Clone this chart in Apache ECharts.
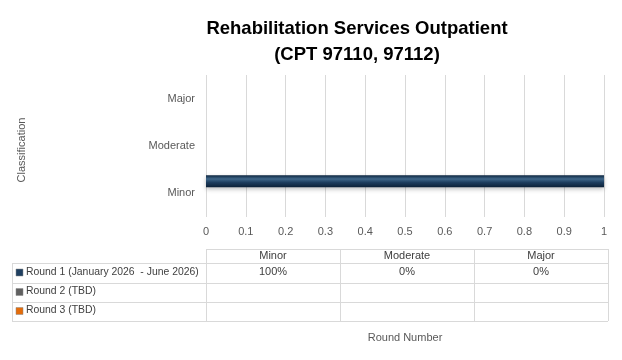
<!DOCTYPE html>
<html>
<head>
<meta charset="utf-8">
<script src="https://cdn.jsdelivr.net/npm/echarts@6/dist/echarts.min.js"></script>
<style>html,body{margin:0;padding:0;background:#fff;}#c{width:622px;height:360px;}</style>
</head>
<body>
<div id="c"></div>
<script>
var categories = ['Minor', 'Moderate', 'Major'];
var seriesNames = ['Round 1 (January 2026  - June 2026)', 'Round 2 (TBD)', 'Round 3 (TBD)'];
var round1 = [1, 0, 0];
var round2 = [null, null, null];
var round3 = [null, null, null];
var xTicks = [0, 0.1, 0.2, 0.3, 0.4, 0.5, 0.6, 0.7, 0.8, 0.9, 1];

var seriesData = [round1, round2, round3];
var colors = [
  ['#0e2741', '#3f6689', '#1d3d5e', '#0c2036'],
  ['#404040', '#8a8a8a', '#5a5a5a', '#333333'],
  ['#b9520a', '#f59a4d', '#e06a12', '#a84808']
];
var keyColors = ['#1f3f60', '#606060', '#e46c0a'];

function grad(c) {
  return new echarts.graphic.LinearGradient(0, 0, 0, 1, [
    {offset: 0, color: c[0]}, {offset: 0.3, color: c[1]},
    {offset: 0.6, color: c[2]}, {offset: 1, color: c[3]}
  ]);
}

var chart = echarts.init(document.getElementById('c'), null, {renderer: 'canvas'});
var gLeft = 206, gRight = 18, gTop = 75, gBottom = 143;

var series = seriesNames.map(function (n, i) {
  return {
    name: n, type: 'bar', data: seriesData[i],
    barGap: '0%', barCategoryGap: '24%',
    itemStyle: {color: grad(colors[i]), shadowColor: 'rgba(0,0,0,0.25)', shadowBlur: 4, shadowOffsetY: 2},
    emphasis: {disabled: true}
  };
});

// table
var tf = 'Liberation Sans, Arial, sans-serif';
var colX = [206, 340, 474, 608];
var rowY = [249, 263, 283, 302, 321];
var lineC = '#d9d9d9';
var g = [];
function line(x1, y1, x2, y2) {
  g.push({type: 'line', shape: {x1: x1, y1: y1, x2: x2, y2: y2}, style: {stroke: lineC, lineWidth: 1}, silent: true});
}
line(206, rowY[0] + 0.5, 608, rowY[0] + 0.5);
for (var r = 1; r < rowY.length; r++) line(12, rowY[r] + 0.5, 608, rowY[r] + 0.5);
line(12.5, rowY[1], 12.5, rowY[4]);
colX.forEach(function (x) { line(x + 0.5, rowY[0], x + 0.5, rowY[4]); });
categories.forEach(function (c, j) {
  g.push({type: 'text', x: (colX[j] + colX[j + 1]) / 2, y: (rowY[0] + rowY[1]) / 2,
    style: {text: c, font: '11px ' + tf, fill: '#404040', align: 'center', verticalAlign: 'middle'}});
});
seriesNames.forEach(function (n, i) {
  var cy = (rowY[i + 1] + rowY[i + 2]) / 2 - 1;
  g.push({type: 'rect', shape: {x: 16, y: cy - 3, width: 7, height: 7}, style: {fill: keyColors[i], stroke: '#888', lineWidth: 0.5}});
  g.push({type: 'text', x: 26, y: cy, style: {text: n, font: '10.4px ' + tf, fill: '#404040', align: 'left', verticalAlign: 'middle'}});
  seriesData[i].forEach(function (v, j) {
    if (v === null || v === undefined) return;
    g.push({type: 'text', x: (colX[j] + colX[j + 1]) / 2, y: cy,
      style: {text: Math.round(v * 100) + '%', font: '11px ' + tf, fill: '#404040', align: 'center', verticalAlign: 'middle'}});
  });
});
g.push({type: 'text', x: 405, y: 338, style: {text: 'Round Number', font: '11px ' + tf, fill: '#595959', align: 'center', verticalAlign: 'middle'}});
g.push({type: 'text', x: 22, y: 150, rotation: Math.PI / 2, style: {text: 'Classification', font: '11px ' + tf, fill: '#595959', align: 'center', verticalAlign: 'middle'}});

chart.setOption({
  animation: false,
  title: {
    text: 'Rehabilitation Services Outpatient\n(CPT 97110, 97112)',
    left: 352, top: 11, textAlign: 'center',
    textStyle: {fontFamily: tf, fontWeight: 'bold', fontSize: 18.5, color: '#000', lineHeight: 26}
  },
  grid: {left: gLeft, right: gRight, top: gTop, bottom: gBottom, containLabel: false},
  xAxis: {
    type: 'value', min: 0, max: 1, interval: 0.1,
    axisLine: {show: false}, axisTick: {show: false},
    splitLine: {lineStyle: {color: '#d9d9d9'}},
    axisLabel: {color: '#595959', fontSize: 11, fontFamily: tf, margin: 9,
      formatter: function (v) { var t = xTicks.reduce(function (a, b) { return Math.abs(b - v) < Math.abs(a - v) ? b : a; }); return String(t); }}
  },
  yAxis: {
    type: 'category', data: categories,
    axisLine: {show: false}, axisTick: {show: false},
    axisLabel: {color: '#595959', fontSize: 11, fontFamily: tf, margin: 11}
  },
  series: series,
  graphic: g
});
</script>
</body>
</html>
